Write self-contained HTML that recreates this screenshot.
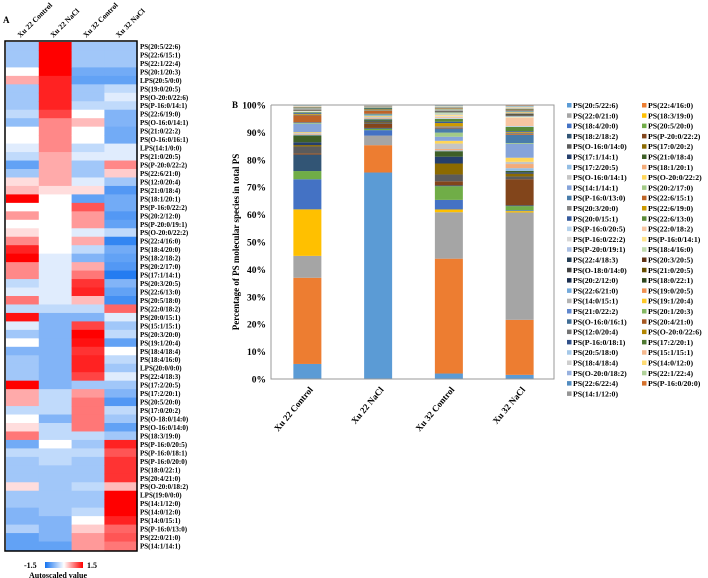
<!DOCTYPE html>
<html><head><meta charset="utf-8"><style>
body{margin:0;background:#fff;width:708px;height:578px;overflow:hidden}
svg{display:block;font-family:"Liberation Serif",serif;font-weight:bold}
</style></head><body>
<svg id="fig" width="708" height="578">
<text x="3" y="23" font-size="9">A</text>
<g id="heat"></g>
<g id="bars"></g>
<g id="legend"></g>
</svg>
<script>
const heatCols = ["Xu 22 Control","Xu 22 NaCl","Xu 32 Control","Xu 32 NaCl"];
const heatRows = ["PS(20:5/22:6)","PS(22:6/15:1)","PS(22:1/22:4)","PS(20:1/20:3)","LPS(20:5/0:0)","PS(19:0/20:5)","PS(O-20:0/22:6)","PS(P-16:0/14:1)","PS(22:6/19:0)","PS(O-16:0/14:1)","PS(21:0/22:2)","PS(O-16:0/16:1)","LPS(14:1/0:0)","PS(21:0/20:5)","PS(P-20:0/22:2)","PS(22:6/21:0)","PS(12:0/20:4)","PS(21:0/18:4)","PS(18:1/20:1)","PS(P-16:0/22:2)","PS(20:2/12:0)","PS(P-20:0/19:1)","PS(O-20:0/22:2)","PS(22:4/16:0)","PS(18:4/20:0)","PS(18:2/18:2)","PS(20:2/17:0)","PS(17:1/14:1)","PS(20:3/20:5)","PS(22:6/13:0)","PS(20:5/18:0)","PS(22:0/18:2)","PS(20:0/15:1)","PS(15:1/15:1)","PS(20:3/20:0)","PS(19:1/20:4)","PS(18:4/18:4)","PS(18:4/16:0)","LPS(20:0/0:0)","PS(22:4/18:3)","PS(17:2/20:5)","PS(17:2/20:1)","PS(20:5/20:0)","PS(17:0/20:2)","PS(O-18:0/14:0)","PS(O-16:0/14:0)","PS(18:3/19:0)","PS(P-16:0/20:5)","PS(P-16:0/18:1)","PS(P-16:0/20:0)","PS(18:0/22:1)","PS(20:4/21:0)","PS(O-20:0/18:2)","LPS(19:0/0:0)","PS(14:1/12:0)","PS(14:0/12:0)","PS(14:0/15:1)","PS(P-16:0/13:0)","PS(22:0/21:0)","PS(14:1/14:1)"];
const heatCol1 = [-0.6,-0.6,-0.6,0,0.5,-0.6,-0.6,-0.6,-0.4,-0.7,0,0,-0.2,-0.4,-1.0,-0.6,0.2,0.4,1.5,0,0.6,0,0.2,0.7,1.3,1.5,0.7,0.7,-0.4,-0.2,0.8,-0.4,1.4,-0.2,-0.6,0,-0.8,-0.6,-0.6,-0.6,1.5,0.5,0.5,-0.4,0,0.2,0.8,-0.9,-0.4,-0.6,-0.6,-0.6,0.2,-0.6,-0.6,-0.8,-0.8,-0.5,-1.0,-1.0];
const heatCol2 = [1.5,1.5,1.5,1.5,1.3,1.3,1.3,1.3,1.1,0.7,0.7,0.7,0.7,0.5,0.5,0.5,0.5,0.2,0,0,0,0,0,0,0,-0.2,-0.2,-0.2,-0.2,-0.2,-0.2,-0.4,-0.8,-0.8,-0.8,-0.8,-0.8,-0.8,-0.8,-0.8,-0.8,-0.4,-0.4,-0.4,-0.8,-0.4,-0.4,0,-0.4,-0.4,-0.6,-0.6,-0.6,-0.6,-0.6,-0.6,-0.8,-0.8,-0.8,-1.0];
const heatCol3 = [-0.6,-0.6,-0.6,-0.9,-1.0,-0.6,-0.6,-0.4,0,0.4,0,0,-0.4,-0.2,-0.6,-0.6,-0.2,0.2,-1.0,1.0,0.6,0.6,-0.2,0.5,-0.4,-0.8,0.5,0.8,1.2,1.3,0.4,-0.4,-0.8,1.1,1.5,1.4,1.2,1.3,1.3,1.1,-0.6,0.6,0.8,0.8,0.8,0.8,-0.4,-0.6,-0.4,-0.6,-0.6,-0.6,-0.4,-0.6,-0.6,-0.4,0,0.3,0.6,0.6];
const heatCol4 = [-0.6,-0.6,-0.6,-0.9,-1.0,-0.4,-0.2,-0.4,-0.8,-0.8,-0.9,-0.9,-0.2,-0.2,0.7,0.3,-0.6,-1.1,-0.9,-0.9,-1.1,-1.0,-0.4,-1.3,-0.9,-1.0,-1.1,-1.4,-0.8,-1.0,-1.2,0.9,-0.2,-0.6,-0.4,-1.0,0,-0.4,-0.6,-0.2,-0.6,-0.8,-1.1,-0.4,-0.6,-1.0,-0.6,1.3,1.0,1.2,1.2,1.2,0.4,1.5,1.5,1.5,1.3,0.9,1.0,0.8];

const barCats = ["Xu 22 Control","Xu 22 NaCl","Xu 32 Control","Xu 32 NaCl"];
const yTicks = ["0%","10%","20%","30%","40%","50%","60%","70%","80%","90%","100%"];
const seriesNames = ["PS(20:5/22:6)","PS(22:4/16:0)","PS(22:0/21:0)","PS(18:3/19:0)","PS(18:4/20:0)","PS(20:5/20:0)","PS(18:2/18:2)","PS(P-20:0/22:2)","PS(O-16:0/14:0)","PS(17:0/20:2)","PS(17:1/14:1)","PS(21:0/18:4)","PS(17:2/20:5)","PS(18:1/20:1)","PS(O-16:0/14:1)","PS(O-20:0/22:2)","PS(14:1/14:1)","PS(20:2/17:0)","PS(P-16:0/13:0)","PS(22:6/15:1)","PS(20:3/20:0)","PS(22:6/19:0)","PS(20:0/15:1)","PS(22:6/13:0)","PS(P-16:0/20:5)","PS(22:0/18:2)","PS(P-16:0/22:2)","PS(P-16:0/14:1)","PS(P-20:0/19:1)","PS(18:4/16:0)","PS(22:4/18:3)","PS(20:3/20:5)","PS(O-18:0/14:0)","PS(21:0/20:5)","PS(20:2/12:0)","PS(18:0/22:1)","PS(22:6/21:0)","PS(19:0/20:5)","PS(14:0/15:1)","PS(19:1/20:4)","PS(21:0/22:2)","PS(20:1/20:3)","PS(O-16:0/16:1)","PS(20:4/21:0)","PS(12:0/20:4)","PS(O-20:0/22:6)","PS(P-16:0/18:1)","PS(17:2/20:1)","PS(20:5/18:0)","PS(15:1/15:1)","PS(18:4/18:4)","PS(14:0/12:0)","PS(O-20:0/18:2)","PS(22:1/22:4)","PS(22:6/22:4)","PS(P-16:0/20:0)","PS(14:1/12:0)"];
const valXu22Control = [5.5,31.5,8,17,11,3,6,0.5,2.5,0.5,1,2.5,0.3,0.3,0.3,0.3,3,0.3,0.3,2.5,0.3,0.3,0.3,0.3,0.08,0.08,0.08,0.08,0.08,0.08,0.08,0.08,0.08,0.08,0.08,0.08,0.08,0.08,0.08,0.08,0.08,0.08,0.08,0.08,0.08,0.08,0.08,0.08,0.08,0.08,0.08,0.08,0.08,0.08,0.08,0.08,0.08];
const valXu22NaCl = [75.5,10,3.5,0,2,0.5,0.3,1.5,0.5,0.3,0.3,0.5,0.3,0.3,0.3,0.3,0.3,0.3,0.3,1,0.3,0.3,0.3,0.3,0.03,0.03,0.03,0.03,0.03,0.03,0.03,0.03,0.03,0.03,0.03,0.03,0.03,0.03,0.03,0.03,0.03,0.03,0.03,0.03,0.03,0.03,0.03,0.03,0.03,0.03,0.03,0.03,0.03,0.03,0.03,0.03,0.03];
const valXu32Control = [2,42,17,1,3.5,5,0.3,1.5,2.5,4,2.5,2,0.3,0.5,2,1,1.5,1.5,1.5,0.3,0.5,1.2,0.5,1,0.3,0.5,0.3,0.5,0.3,0.5,0.1,0.1,0.1,0.1,0.1,0.1,0.1,0.1,0.1,0.1,0.1,0.1,0.1,0.1,0.1,0.1,0.1,0.1,0.1,0.1,0.1,0.1,0.1,0.1,0.1,0.1,0.1];
const valXu32NaCl = [1.5,20,39,0.5,0.3,1.5,0.3,9.5,1,1,0.5,0.5,1,1.5,0.8,1.5,5,0.3,3,0.3,0.5,0.3,0.3,1.5,0.3,3,0.15,0.15,0.15,0.15,0.15,0.15,0.15,0.15,0.15,0.15,0.15,0.15,0.15,0.15,0.15,0.15,0.15,0.15,0.15,0.15,0.15,0.15,0.15,0.15,0.15,0.15,0.15,0.15,0.15,0.15,0.15];

const NS="http://www.w3.org/2000/svg";
function mk(tag,attrs,parent){const e=document.createElementNS(NS,tag);for(const k in attrs)e.setAttribute(k,attrs[k]);parent.appendChild(e);return e;}

// ---- heatmap ----
const heat=document.getElementById('heat');
const hx0=6,hy0=42,cw=32.8,rh=508/60;
function heatColor(v){const t=Math.max(-1,Math.min(1,v/1.5));
 if(t>=0){return `rgb(255,${Math.round(255*(1-t))},${Math.round(255*(1-t))})`;}
 const a=-t;return `rgb(${Math.round(255-a*(255-20))},${Math.round(255-a*(255-115))},${Math.round(255-a*(255-240))})`;}
const heatData=[heatCol1,heatCol2,heatCol3,heatCol4];
heatData.forEach((col,ci)=>{col.forEach((v,ri)=>{
 const r=mk('rect',{x:hx0+ci*cw,y:hy0+ri*rh,width:cw+0.5,height:rh+0.5,fill:heatColor(v)},heat);
 
 
});});
const hb=mk('rect',{x:5,y:41,width:132,height:510,fill:'none',stroke:'#000','stroke-width':1.5},heat);


heatCols.forEach((c,ci)=>{const cx=hx0+ci*cw+cw/2-2;
 const t=mk('text',{x:0,y:0,'font-size':7.5,transform:`translate(${cx},38) rotate(-45)`},heat);t.textContent=c;
 
 
});
heatRows.forEach((n,ri)=>{const t=mk('text',{x:140,y:hy0+ri*rh+rh-1.5,'font-size':7},heat);t.textContent=n;
 
 
});
const defs=mk('defs',{},heat);
const lg=mk('linearGradient',{id:'hg',x1:0,x2:1,y1:0,y2:0},defs);
mk('stop',{offset:'0',  'stop-color':heatColor(-1.5)},lg);
mk('stop',{offset:'0.5','stop-color':'#fff'},lg);
mk('stop',{offset:'1','stop-color':heatColor(1.5)},lg);
const cb=mk('rect',{x:45,y:562,width:38,height:6,fill:'url(#hg)'},heat);


let t1=mk('text',{x:24,y:568,'font-size':8},heat);t1.textContent='-1.5';


let t2=mk('text',{x:87,y:568,'font-size':8},heat);t2.textContent='1.5';


let t3=mk('text',{x:58,y:578,'font-size':8,'text-anchor':'middle'},heat);t3.textContent='Autoscaled value';



// ---- bar chart ----
const bars=document.getElementById('bars');
const px0=271,px1=554,py0=379,py1=105;
const yS=v=>py0-(v/100)*(py0-py1);
const bandW=(px1-px0)/barCats.length;
const xC=i=>px0+bandW*(i+0.5)+1;
const barW=28;
let bl=mk('text',{x:232,y:108,'font-size':9},bars);bl.textContent='B';


yTicks.forEach((lab,i)=>{const v=i*10;
 const t=mk('text',{x:266,y:yS(v)+3.5,'font-size':9.5,'text-anchor':'end'},bars);t.textContent=lab;
 
 
});
const yl=mk('text',{x:0,y:0,'font-size':9,'text-anchor':'middle',transform:`translate(239,${(py0+py1)/2}) rotate(-90)`},bars);
yl.textContent='Percentage of PS molecular species in total PS';


const base=[[91,155,213],[237,125,49],[165,165,165],[255,192,0],[68,114,196],[112,173,71]];
const mixes=[0,-0.45,0.35,-0.2,0.55,-0.6,0.15,-0.3,0.45,-0.1];
function seriesColor(i){const b=base[i%6],m=mixes[Math.floor(i/6)%mixes.length];
 const c=b.map(x=>m>=0?Math.round(x+(255-x)*m):Math.round(x*(1+m)));return `rgb(${c.join(',')})`;}
const barVals=[valXu22Control,valXu22NaCl,valXu32Control,valXu32NaCl];
barVals.forEach((vals,bi)=>{const tot=vals.reduce((a,b)=>a+b,0);let cum=0;
 vals.forEach((v,si)=>{const p=v/tot*100;
  const r=mk('rect',{x:xC(bi)-barW/2,y:yS(cum+p),width:barW,height:Math.max(0,yS(cum)-yS(cum+p)),fill:seriesColor(si)},bars);
  
  
  cum+=p;});
 const t=mk('text',{x:0,y:0,'font-size':9,'text-anchor':'end',transform:`translate(${xC(bi)+6},${py0+11}) rotate(-50)`},bars);t.textContent=barCats[bi];
 
 
});
const ax=mk('path',{d:`M${px0},${py1}V${py0}H${px1}V${py1}H${px0}`,fill:'none',stroke:'#999','stroke-width':1},bars);



// ---- legend ----
const leg=document.getElementById('legend');
const rowH=10.3;
seriesNames.forEach((n,i)=>{const col=i%2,row=Math.floor(i/2);
 const x=567+col*75,y=107+row*rowH;
 const s=mk('rect',{x:x,y:y-4,width:4.5,height:4.5,fill:seriesColor(i)},leg);
 
 
 const t=mk('text',{x:x+6,y:y+1,'font-size':7.8},leg);t.textContent=n;
 
 
});
</script>
</body></html>
